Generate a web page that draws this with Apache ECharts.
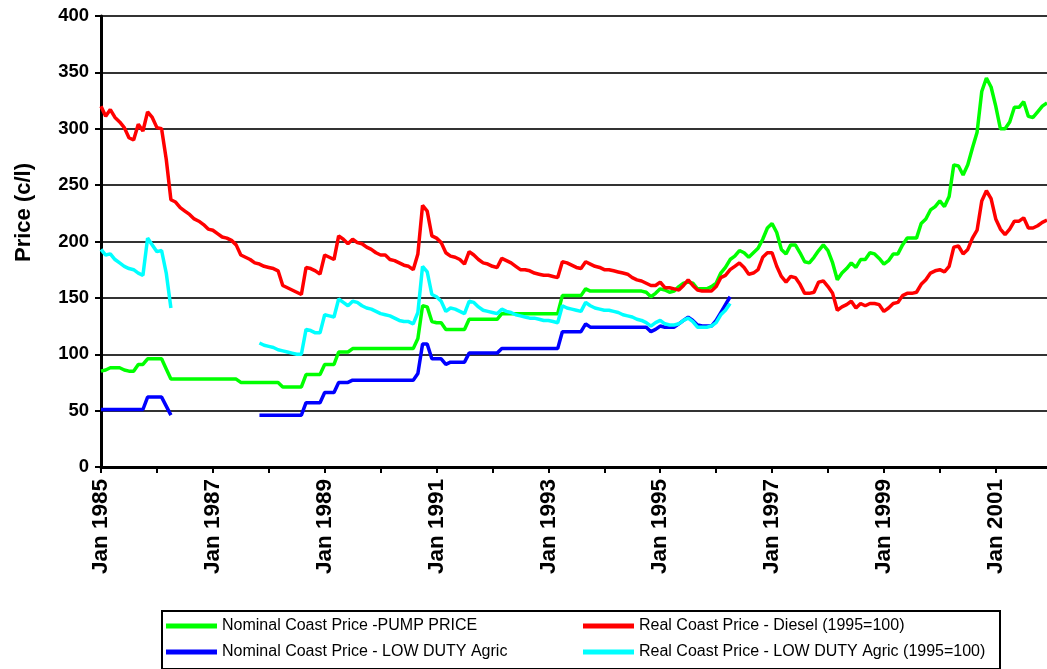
<!DOCTYPE html>
<html>
<head>
<meta charset="utf-8">
<script src="https://cdn.jsdelivr.net/npm/echarts@6/dist/echarts.min.js"></script>
<style>
html,body{margin:0;padding:0;background:#fff;}
#chart{width:1047px;height:669px;}
</style>
</head>
<body>
<div id="chart"></div>
<script>
// Monthly categories Jan 1985 .. Dec 2001
const monthNames = ['Jan','Feb','Mar','Apr','May','Jun','Jul','Aug','Sep','Oct','Nov','Dec'];
const firstYear = 1985, lastYear = 2001;
const categories = [];
for (let y = firstYear; y <= lastYear; y++) {
  for (let m = 0; m < 12; m++) categories.push(monthNames[m] + ' ' + y);
}

const yTicks = [0, 50, 100, 150, 200, 250, 300, 350, 400];

const seriesNames = [
  'Nominal Coast Price -PUMP PRICE',
  'Real Coast Price - Diesel (1995=100)',
  'Nominal Coast Price - LOW DUTY Agric',
  'Real Coast Price - LOW DUTY Agric (1995=100)'
];

const N = null;

// Nominal Coast Price - PUMP PRICE (green)
const pumpNominal = [
  85, 86, 88, 88, 88, 86, 85, 85, 91, 91, 96, 96,          // 1985
  96, 96, 87, 78, 78, 78, 78, 78, 78, 78, 78, 78,          // 1986
  78, 78, 78, 78, 78, 78, 75, 75, 75, 75, 75, 75,          // 1987
  75, 75, 75, 71, 71, 71, 71, 71, 82, 82, 82, 82,          // 1988
  91, 91, 91, 102, 102, 102, 105, 105, 105, 105, 105, 105, // 1989
  105, 105, 105, 105, 105, 105, 105, 105, 114, 143, 142, 129, // 1990
  128, 128, 122, 122, 122, 122, 122, 131, 131, 131, 131, 131, // 1991
  131, 131, 136, 136, 136, 136, 136, 136, 136, 136, 136, 136, // 1992
  136, 136, 136, 152, 152, 152, 152, 152, 158, 156, 156, 156, // 1993
  156, 156, 156, 156, 156, 156, 156, 156, 156, 155, 151, 154, // 1994
  158, 157, 155, 156, 160, 163, 164, 163, 158, 158, 158, 160, // 1995
  163, 172, 177, 184, 187, 192, 190, 186, 190, 194, 202, 212, // 1996
  216, 208, 193, 189, 197, 197, 190, 182, 181, 186, 192, 197, // 1997
  192, 181, 166, 172, 176, 181, 177, 184, 184, 190, 189, 185, // 1998
  180, 183, 189, 189, 197, 203, 203, 203, 216, 220, 228, 231, // 1999
  236, 231, 240, 268, 267, 259, 268, 283, 297, 333, 345, 337, // 2000
  320, 300, 300, 306, 319, 319, 324, 311, 310, 315, 320, 323  // 2001
];

// Real Coast Price - Diesel (1995=100) (red)
const dieselReal = [
  320, 311, 317, 310, 306, 301, 292, 290, 304, 298, 315, 310, // 1985
  301, 300, 273, 237, 235, 230, 227, 224, 220, 218, 215, 211, // 1986
  210, 207, 204, 203, 201, 197, 188, 186, 184, 181, 180, 178, // 1987
  177, 176, 174, 161, 159, 157, 155, 153, 177, 176, 174, 171, // 1988
  188, 186, 184, 205, 202, 198, 202, 199, 198, 195, 193, 190, // 1989
  188, 188, 184, 183, 181, 179, 178, 175, 189, 232, 227, 205, // 1990
  203, 199, 190, 187, 186, 184, 180, 191, 188, 184, 181, 180, // 1991
  178, 177, 185, 183, 181, 178, 175, 175, 174, 172, 171, 170, // 1992
  170, 169, 168, 182, 181, 179, 177, 176, 182, 180, 178, 177, // 1993
  175, 175, 174, 173, 172, 171, 168, 166, 165, 163, 161, 161, // 1994
  164, 159, 159, 158, 157, 161, 166, 161, 157, 156, 156, 156, // 1995
  160, 168, 170, 175, 178, 181, 177, 171, 172, 175, 186, 190, // 1996
  190, 178, 169, 164, 169, 168, 162, 154, 154, 155, 164, 165, // 1997
  160, 154, 139, 142, 144, 147, 141, 145, 143, 145, 145, 144, // 1998
  138, 141, 145, 146, 152, 154, 154, 155, 162, 166, 172, 174, // 1999
  175, 173, 178, 195, 196, 189, 193, 203, 210, 236, 245, 238, // 2000
  220, 211, 206, 211, 218, 218, 221, 212, 212, 214, 217, 219  // 2001
];

// Nominal Coast Price - LOW DUTY Agric (blue)
const agricNominal = [
  51, 51, 51, 51, 51, 51, 51, 51, 51, 51, 62, 62,          // 1985
  62, 62, 54, 46, N, N, N, N, N, N, N, N,                  // 1986
  N, N, N, N, N, N, N, N, N, N, 46, 46,                    // 1987
  46, 46, 46, 46, 46, 46, 46, 46, 57, 57, 57, 57,          // 1988
  66, 66, 66, 75, 75, 75, 77, 77, 77, 77, 77, 77,          // 1989
  77, 77, 77, 77, 77, 77, 77, 77, 83, 109, 109, 96,        // 1990
  96, 96, 91, 93, 93, 93, 93, 101, 101, 101, 101, 101,     // 1991
  101, 101, 105, 105, 105, 105, 105, 105, 105, 105, 105, 105, // 1992
  105, 105, 105, 120, 120, 120, 120, 120, 127, 124, 124, 124, // 1993
  124, 124, 124, 124, 124, 124, 124, 124, 124, 124, 120, 122, // 1994
  125, 124, 124, 124, 127, 130, 133, 130, 126, 125, 125, 125, // 1995
  130, 137, 144, 151, N, N, N, N, N, N, N, N,              // 1996
  N, N, N, N, N, N, N, N, N, N, N, N,                      // 1997
  N, N, N, N, N, N, N, N, N, N, N, N,                      // 1998
  N, N, N, N, N, N, N, N, N, N, N, N,                      // 1999
  N, N, N, N, N, N, N, N, N, N, N, N,                      // 2000
  N, N, N, N, N, N, N, N, N, N, N, N                       // 2001
];

// Real Coast Price - LOW DUTY Agric (1995=100) (cyan)
const agricReal = [
  193, 188, 189, 184, 181, 178, 176, 175, 172, 170, 203, 197, // 1985
  191, 192, 172, 141, N, N, N, N, N, N, N, N,              // 1986
  N, N, N, N, N, N, N, N, N, N, 110, 108,                  // 1987
  107, 106, 104, 103, 102, 101, 100, 100, 122, 121, 119, 119, // 1988
  135, 134, 133, 149, 146, 143, 147, 146, 143, 141, 140, 138, // 1989
  136, 135, 134, 132, 130, 129, 129, 127, 137, 178, 173, 153, // 1990
  151, 147, 138, 141, 140, 138, 136, 147, 146, 142, 139, 138, // 1991
  137, 136, 140, 138, 137, 135, 134, 133, 132, 132, 131, 130, // 1992
  130, 129, 128, 143, 141, 140, 139, 138, 146, 143, 141, 140, // 1993
  139, 139, 138, 137, 135, 134, 133, 131, 130, 128, 125, 128, // 1994
  130, 127, 126, 126, 127, 130, 132, 129, 124, 124, 124, 125, // 1995
  128, 135, 139, 145, N, N, N, N, N, N, N, N,              // 1996
  N, N, N, N, N, N, N, N, N, N, N, N,                      // 1997
  N, N, N, N, N, N, N, N, N, N, N, N,                      // 1998
  N, N, N, N, N, N, N, N, N, N, N, N,                      // 1999
  N, N, N, N, N, N, N, N, N, N, N, N,                      // 2000
  N, N, N, N, N, N, N, N, N, N, N, N                       // 2001
];

const colors = ['#00ff00', '#ff0000', '#0000ff', '#00ffff'];
const seriesData = [pumpNominal, dieselReal, agricNominal, agricReal];

const FONT = '"Liberation Sans", Arial, sans-serif';

// legend slot placement: [left, top] for each series' legend entry
const legendSlots = [[166, 617], [583, 617], [166, 643], [583, 643]];

const chart = echarts.init(document.getElementById('chart'), null, {renderer: 'canvas'});
const option = {
  animation: false,
  backgroundColor: '#ffffff',
  grid: {left: 101, right: 0, top: 16, bottom: 202, containLabel: false},
  xAxis: {
    type: 'category',
    boundaryGap: false,
    data: categories,
    axisLine: {show: true, onZero: false, lineStyle: {color: '#000', width: 3}},
    axisTick: {show: true, length: 6, interval: function (i) { return i % 12 === 0; }, lineStyle: {color: '#000', width: 2}},
    axisLabel: {
      interval: function (i) { return i % 24 === 0; },
      rotate: 90, margin: 12, color: '#000', fontSize: 22.5, fontWeight: 'bold', fontFamily: FONT
    },
    splitLine: {show: false}
  },
  yAxis: {
    type: 'value',
    min: yTicks[0], max: yTicks[yTicks.length - 1], interval: 50,
    name: 'Price (c/l)', nameLocation: 'middle', nameRotate: 90, nameGap: 66,
    nameTextStyle: {color: '#000', fontSize: 22, fontWeight: 'bold', fontFamily: FONT, padding: [0, 0, 0, 58]},
    axisLine: {show: true, lineStyle: {color: '#000', width: 3}},
    axisTick: {show: true, length: 6, lineStyle: {color: '#000', width: 2}},
    axisLabel: {margin: 12, color: '#000', fontSize: 18.5, fontWeight: 'bold', fontFamily: FONT},
    splitLine: {show: true, lineStyle: {color: '#333', width: 2}}
  },
  legend: seriesNames.map(function (name, i) {
    return {
      orient: 'horizontal', left: legendSlots[i][0], top: legendSlots[i][1],
      itemWidth: 51, itemHeight: 5, icon: 'rect', padding: 0,
      data: [name],
      textStyle: {fontSize: 16, lineHeight: 18, color: '#000', fontFamily: FONT}
    };
  }),
  graphic: [{
    type: 'rect', left: 161, top: 610, z: -1,
    shape: {width: 838, height: 58},
    style: {fill: '#fff', stroke: '#000', lineWidth: 2}
  }],
  series: seriesNames.map(function (name, i) {
    return {
      name: name, type: 'line', data: seriesData[i],
      showSymbol: false, connectNulls: false,
      itemStyle: {color: colors[i]},
      lineStyle: {color: colors[i], width: 3.5},
      z: 2 + i
    };
  })
};
chart.setOption(option);
</script>
</body>
</html>
